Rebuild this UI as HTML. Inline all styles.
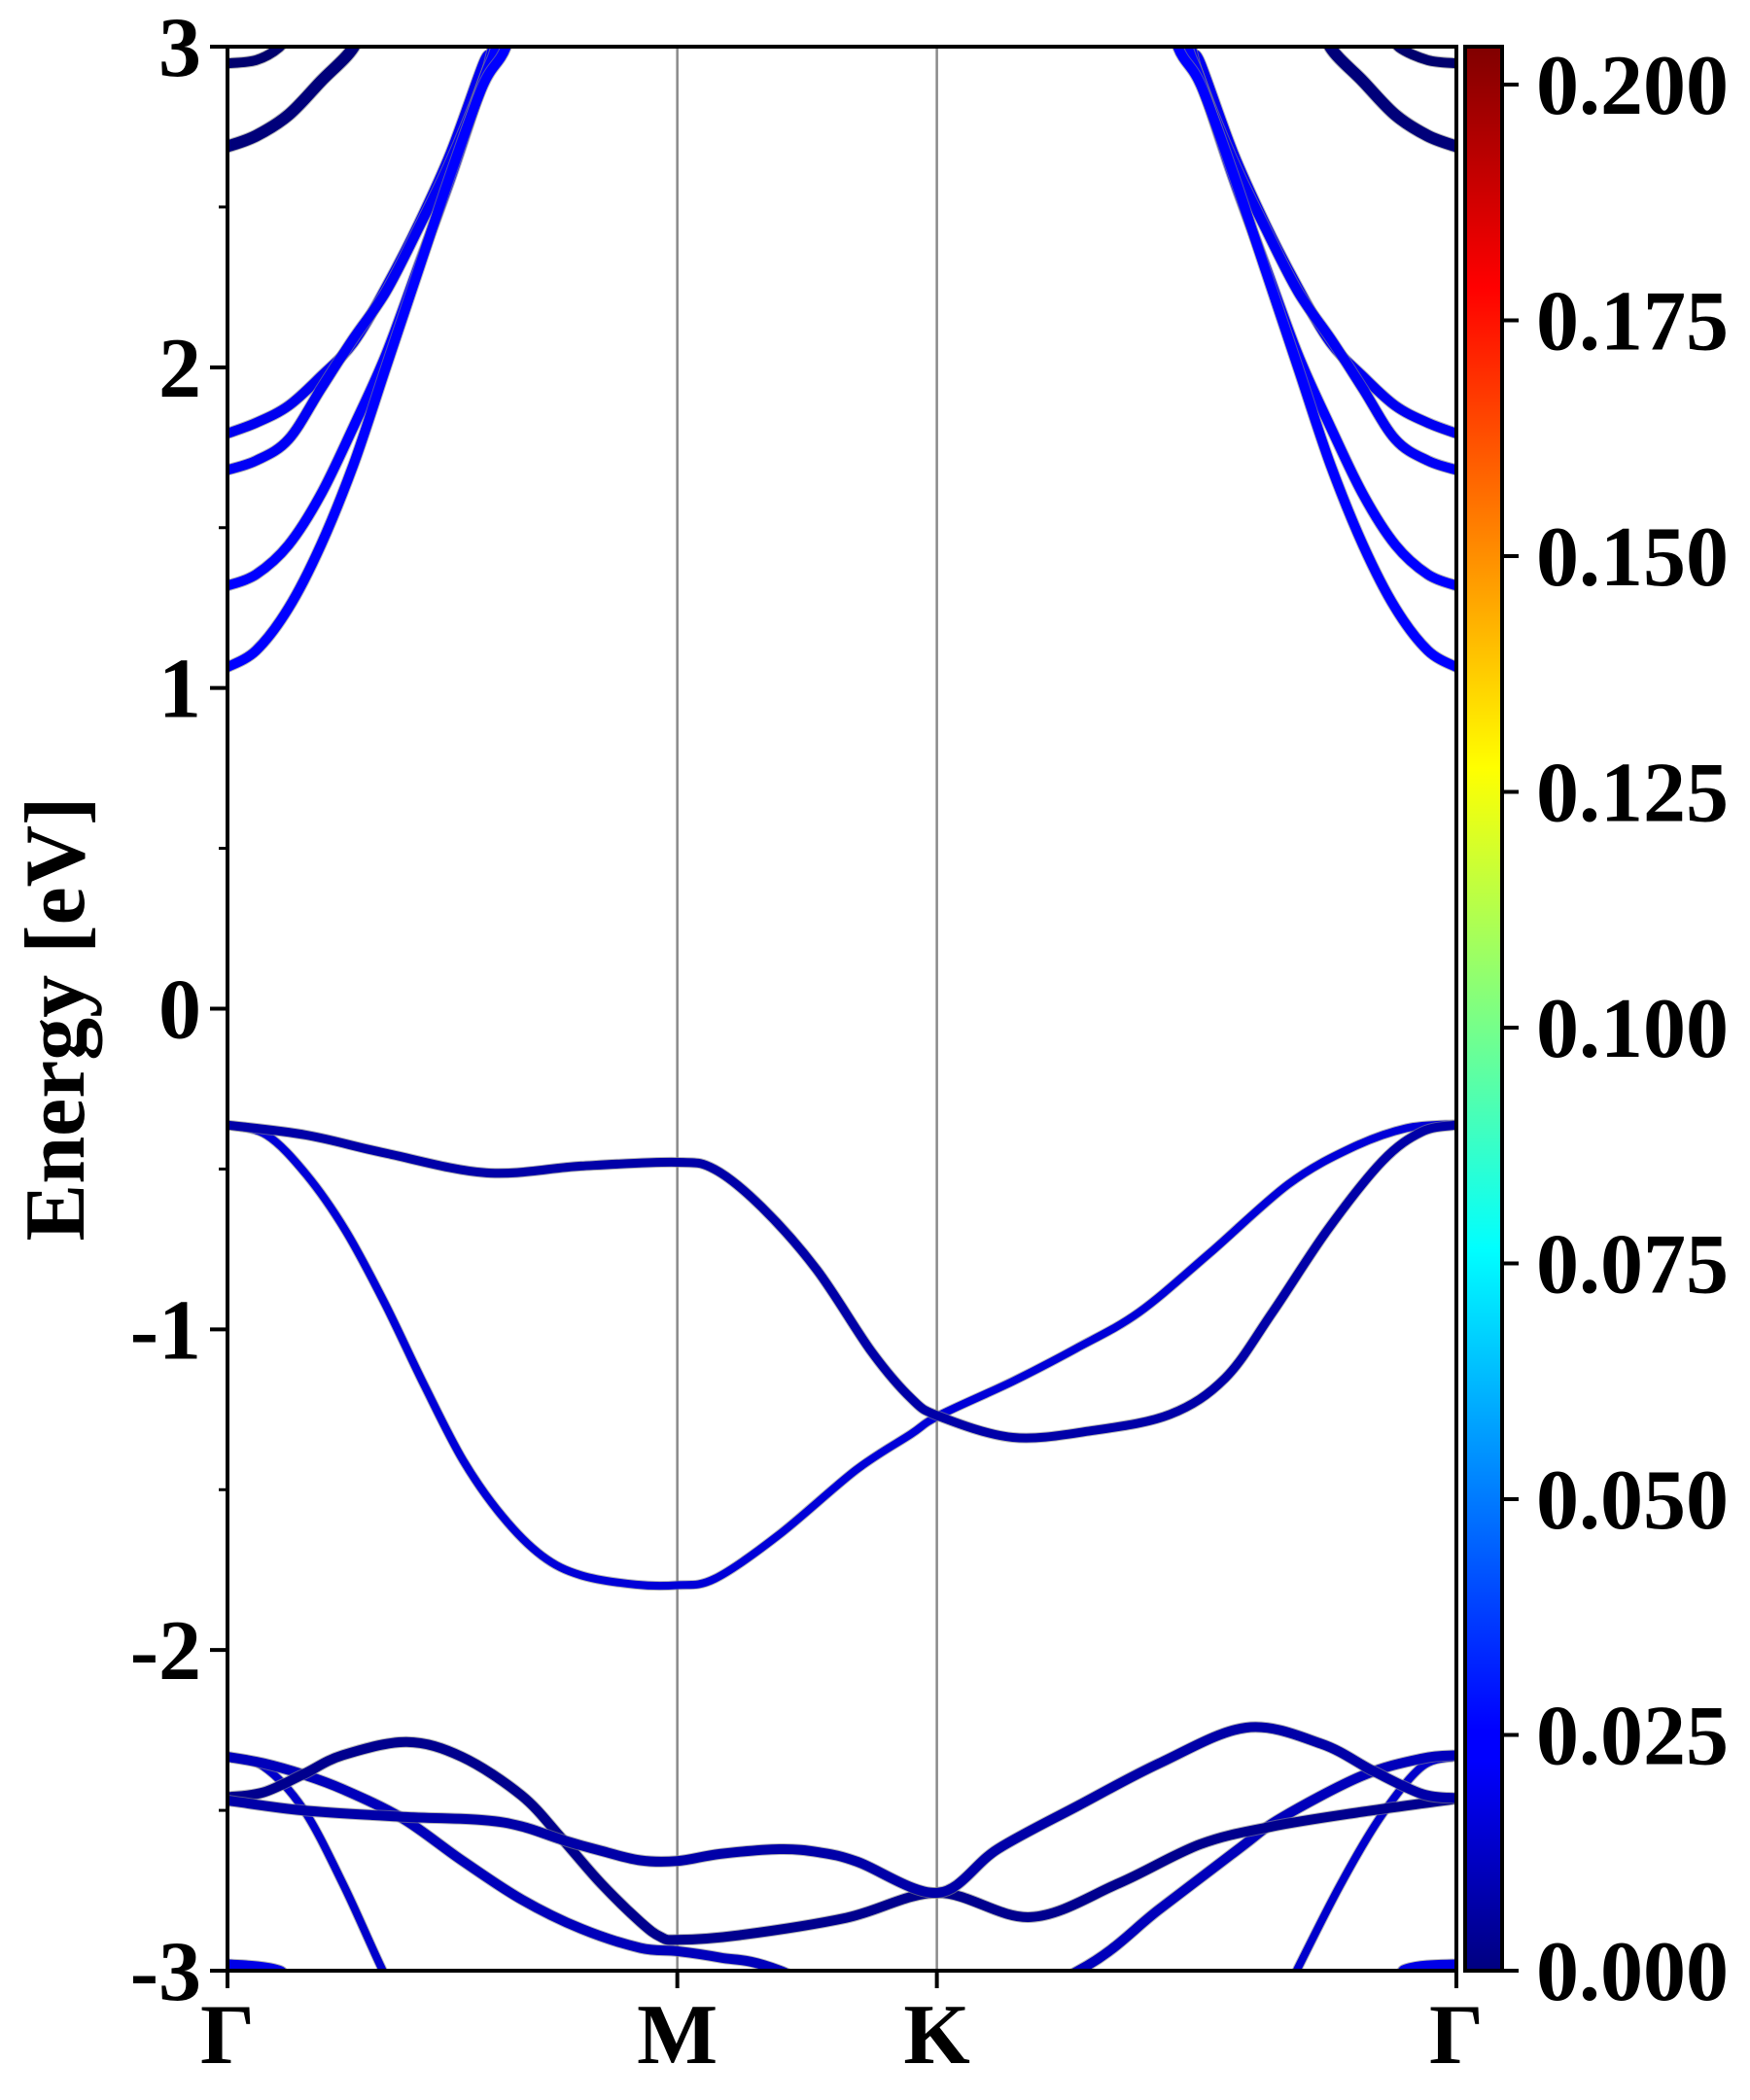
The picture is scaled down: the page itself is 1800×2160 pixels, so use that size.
<!DOCTYPE html>
<html><head><meta charset="utf-8"><style>
html,body{margin:0;padding:0;background:#fff;width:1800px;height:2160px;overflow:hidden;}
svg{display:block;}
svg text{font-family:"Liberation Serif","DejaVu Serif",serif;font-weight:bold;fill:#000;}
</style></head><body>
<svg id="chart" xmlns="http://www.w3.org/2000/svg" width="1800" height="2160" viewBox="0 0 1800 2160">
<defs>
<clipPath id="plotclip"><rect x="234" y="48" width="1264" height="1979"/></clipPath>
<linearGradient id="jet" x1="0" y1="1" x2="0" y2="0">
<stop offset="0" stop-color="#000080"/><stop offset="0.11" stop-color="#0000ff"/><stop offset="0.125" stop-color="#0000ff"/>
<stop offset="0.375" stop-color="#00ffff"/><stop offset="0.5" stop-color="#80ff80"/><stop offset="0.625" stop-color="#ffff00"/>
<stop offset="0.875" stop-color="#ff0000"/><stop offset="1" stop-color="#800000"/>
</linearGradient>
</defs>
<g id="grid"></g>
<g id="bands" clip-path="url(#plotclip)"></g>
<rect x="234" y="48" width="1264" height="1979" fill="none" stroke="#000" stroke-width="4"/>
<g id="axes"></g>
<text x="0" y="0" font-size="88" text-anchor="middle" transform="translate(86,1048) rotate(-90)">Energy [eV]</text>
<rect x="1507" y="48" width="38" height="1979" fill="url(#jet)" stroke="#000" stroke-width="4"/>
<g id="cbar"></g>
</svg>
<script>
const kLabels = ["Γ","M","K","Γ"];
const kPositions = [0, 1, 1.577, 2.732];
const yTicks = [-3,-2,-1,0,1,2,3];
const yMinor = [-2.5,-1.5,-0.5,0.5,1.5,2.5];
const cbarTicks = [0,0.025,0.05,0.075,0.1,0.125,0.15,0.175,0.2];
const cbarLabels = ["0.000","0.025","0.050","0.075","0.100","0.125","0.150","0.175","0.200"];

const bandC1 = [[0,1.065],[0.0635,1.117],[0.1356,1.249],[0.2077,1.446],[0.2798,1.696],[0.3519,1.998],[0.424,2.301],[0.496,2.603],[0.568,2.879],[0.619,2.998],[0.66,3.2]];
const bandC2 = [[0,1.319],[0.0635,1.354],[0.1356,1.446],[0.2077,1.604],[0.2798,1.814],[0.3519,2.038],[0.424,2.314],[0.496,2.590],[0.568,2.892],[0.597,2.998],[0.63,3.2]];
const bandC3 = [[0,1.680],[0.0635,1.709],[0.1356,1.775],[0.2077,1.933],[0.2798,2.090],[0.3519,2.235],[0.424,2.432],[0.496,2.643],[0.568,2.892],[0.590,2.998],[0.62,3.2]];
const bandC4 = [[0,1.794],[0.0635,1.827],[0.1356,1.880],[0.2077,1.972],[0.2798,2.077],[0.3519,2.248],[0.424,2.445],[0.496,2.669],[0.568,2.945],[0.590,2.998],[0.62,3.2]];
const bandC5 = [[0,2.689],[0.0635,2.722],[0.1356,2.787],[0.2077,2.892],[0.2798,2.998],[0.30,3.1]];
const bandC6 = [[0,2.948],[0.0635,2.958],[0.115,2.998],[0.14,3.05]];
const bandC1R = [[0,1.065],[0.0635,1.117],[0.1356,1.249],[0.2077,1.446],[0.2798,1.696],[0.3519,1.998],[0.424,2.301],[0.496,2.603],[0.568,2.879],[0.619,2.998],[0.66,3.2]];
const bandC2R = [[0,1.319],[0.0635,1.354],[0.1356,1.446],[0.2077,1.604],[0.2798,1.814],[0.3519,2.038],[0.424,2.314],[0.496,2.590],[0.568,2.892],[0.597,2.998],[0.63,3.2]];
const bandC3R = [[0,1.680],[0.0635,1.709],[0.1356,1.775],[0.2077,1.933],[0.2798,2.090],[0.3519,2.235],[0.424,2.432],[0.496,2.643],[0.568,2.892],[0.590,2.998],[0.62,3.2]];
const bandC4R = [[0,1.794],[0.0635,1.827],[0.1356,1.880],[0.2077,1.972],[0.2798,2.077],[0.3519,2.248],[0.424,2.445],[0.496,2.669],[0.568,2.945],[0.590,2.998],[0.62,3.2]];
const bandC5R = [[0,2.689],[0.0635,2.722],[0.1356,2.787],[0.2077,2.892],[0.2798,2.998],[0.30,3.1]];
const bandC6R = [[0,2.948],[0.0635,2.958],[0.127,2.998],[0.15,3.05]];

const bandA = [[0,-0.363],[0.175,-0.394],[0.349,-0.450],[0.576,-0.512],[0.786,-0.491],[0.999,-0.479],[1.083,-0.501],[1.188,-0.619],[1.310,-0.814],[1.432,-1.070],[1.519,-1.214],[1.580,-1.270],[1.746,-1.337],[1.921,-1.316],[2.096,-1.265],[2.218,-1.152],[2.323,-0.947],[2.445,-0.691],[2.567,-0.476],[2.655,-0.384],[2.732,-0.363]];
const bandB = [[0,-0.363],[0.087,-0.394],[0.175,-0.517],[0.262,-0.691],[0.349,-0.917],[0.437,-1.173],[0.524,-1.409],[0.611,-1.583],[0.699,-1.706],[0.786,-1.767],[0.908,-1.796],[0.999,-1.798],[1.083,-1.778],[1.223,-1.644],[1.397,-1.439],[1.519,-1.327],[1.580,-1.270],[1.746,-1.162],[1.886,-1.060],[2.026,-0.947],[2.183,-0.763],[2.358,-0.548],[2.497,-0.435],[2.620,-0.373],[2.732,-0.360]];
const bandR = [[0,-2.469],[0.168,-2.500],[0.389,-2.520],[0.565,-2.530],[0.654,-2.550],[0.742,-2.591],[0.830,-2.626],[0.918,-2.656],[1.0,-2.658],[1.095,-2.636],[1.227,-2.621],[1.316,-2.631],[1.40,-2.660],[1.579,-2.757],[1.713,-2.620],[1.893,-2.484],[2.072,-2.353],[2.265,-2.242],[2.431,-2.292],[2.548,-2.378],[2.656,-2.449],[2.732,-2.462]];
const bandQ = [[0,-2.459],[0.0797,-2.444],[0.168,-2.388],[0.256,-2.328],[0.398,-2.287],[0.521,-2.333],[0.654,-2.454],[0.742,-2.586],[0.830,-2.727],[0.918,-2.848],[0.962,-2.894],[1.0,-2.904],[1.139,-2.889],[1.376,-2.835],[1.579,-2.757],[1.785,-2.833],[1.982,-2.727],[2.162,-2.606],[2.323,-2.550],[2.521,-2.505],[2.732,-2.464]];
const bandP = [[0,-2.333],[0.0797,-2.353],[0.168,-2.388],[0.256,-2.434],[0.389,-2.525],[0.521,-2.656],[0.654,-2.778],[0.786,-2.869],[0.918,-2.929],[1.0,-2.939],[1.095,-2.959],[1.227,-2.999],[1.56,-3.2],[1.893,-2.999],[2.072,-2.808],[2.252,-2.616],[2.341,-2.525],[2.521,-2.393],[2.656,-2.338],[2.732,-2.328]];
const bandS = [[0,-2.333],[0.0797,-2.363],[0.168,-2.495],[0.256,-2.727],[0.345,-2.999],[0.45,-3.3],[1.36,-3.35],[2.27,-3.3],[2.377,-2.999],[2.476,-2.727],[2.566,-2.515],[2.656,-2.363],[2.732,-2.333]];
const bandT = [[0,-2.980],[0.115,-2.999],[0.22,-3.08],[1.36,-3.3],[2.5,-3.08],[2.620,-2.995],[2.732,-2.980]];

const X0=234, X1=1498, KMAX=2.732, YTOP=48, YBOT=2027, EMIN=-3, EMAX=3;
function xk(k){return X0+(k/KMAX)*(X1-X0);}
function yE(e){return YBOT-(e-EMIN)/(EMAX-EMIN)*(YBOT-YTOP);}
function cy(v){return 2027 - v*9700;}
const NS="http://www.w3.org/2000/svg";
function mk(tag,attrs,parent){const el=document.createElementNS(NS,tag);for(const a in attrs)el.setAttribute(a,attrs[a]);parent.appendChild(el);return el;}
function smoothPath(pts){
  let d="M"+pts[0][0].toFixed(1)+","+pts[0][1].toFixed(1);
  for(let i=0;i<pts.length-1;i++){
    const p0=pts[Math.max(0,i-1)],p1=pts[i],p2=pts[i+1],p3=pts[Math.min(pts.length-1,i+2)];
    const c1x=p1[0]+(p2[0]-p0[0])/6,c1y=p1[1]+(p2[1]-p0[1])/6;
    const c2x=p2[0]-(p3[0]-p1[0])/6,c2y=p2[1]-(p3[1]-p1[1])/6;
    d+=" C"+c1x.toFixed(1)+","+c1y.toFixed(1)+" "+c2x.toFixed(1)+","+c2y.toFixed(1)+" "+p2[0].toFixed(1)+","+p2[1].toFixed(1);
  }
  return d;
}
const grid=document.getElementById('grid');
for(let i=1;i<kPositions.length-1;i++){
  const l=mk('line',{x1:xk(kPositions[i]),x2:xk(kPositions[i]),y1:YTOP,y2:YBOT,stroke:'#8a8a8a','stroke-width':2.5},grid);
  
  
}
const bandsG=document.getElementById('bands');
function drawBand(data,name,color,w,mirror){
  const pts=data.map(p=>[xk(mirror?KMAX-p[0]:p[0]),yE(p[1])]);
  const d=smoothPath(pts);
  mk('path',{d:d,fill:'none',stroke:'#888','stroke-width':w+2,'stroke-linecap':'round','stroke-linejoin':'round','stroke-opacity':0.6},bandsG);
  const el=mk('path',{d:d,fill:'none',stroke:color,'stroke-width':w,'stroke-linecap':'round','stroke-linejoin':'round'},bandsG);
  
  
}
drawBand(bandT,'band-t','#0000e6',10,false);
drawBand(bandS,'band-s','#0000cc',8,false);
drawBand(bandP,'band-p','#0000bb',10,false);
drawBand(bandQ,'band-q','#00008e',10,false);
drawBand(bandR,'band-r','#0000a8',10,false);
drawBand(bandB,'band-b','#0000d8',8,false);
drawBand(bandA,'band-a','#0000a8',9,false);
drawBand(bandC6,'band-c6','#00006e',10,false);
drawBand(bandC5,'band-c5','#00007a',12,false);
drawBand(bandC4,'band-c4','#0000f0',10,false);
drawBand(bandC3,'band-c3','#0000f5',10,false);
drawBand(bandC2,'band-c2','#0000ff',10,false);
drawBand(bandC1,'band-c1','#0000ff',10,false);
drawBand(bandC6R,'band-c6-right','#00006e',10,true);
drawBand(bandC5R,'band-c5-right','#00007a',12,true);
drawBand(bandC4R,'band-c4-right','#0000f0',10,true);
drawBand(bandC3R,'band-c3-right','#0000f5',10,true);
drawBand(bandC2R,'band-c2-right','#0000ff',10,true);
drawBand(bandC1R,'band-c1-right','#0000ff',10,true);

const axes=document.getElementById('axes');
yTicks.forEach(v=>{
  const t=mk('line',{x1:216,x2:234,y1:yE(v),y2:yE(v),stroke:'#000','stroke-width':4},axes);
  
  
  const tx=mk('text',{x:207,y:yE(v)+30,'font-size':88,'text-anchor':'end'},axes);
  tx.textContent=String(v);
  
  
});
yMinor.forEach(v=>{
  const t=mk('line',{x1:225,x2:234,y1:yE(v),y2:yE(v),stroke:'#000','stroke-width':3},axes);
  
  
});
kPositions.forEach((k,i)=>{
  const t=mk('line',{x1:xk(k),x2:xk(k),y1:YBOT,y2:YBOT+18,stroke:'#000','stroke-width':4},axes);
  
  
  const tx=mk('text',{x:xk(k),y:2122,'font-size':88,'text-anchor':'middle'},axes);
  tx.textContent=kLabels[i];
  
  
});
const cbar=document.getElementById('cbar');
cbarTicks.forEach((v,i)=>{
  const t=mk('line',{x1:1545,x2:1562,y1:cy(v),y2:cy(v),stroke:'#000','stroke-width':4},cbar);
  
  
  const tx=mk('text',{x:1580,y:cy(v)+30,'font-size':88},cbar);
  tx.textContent=cbarLabels[i];
  
  
});
</script>
</body></html>
